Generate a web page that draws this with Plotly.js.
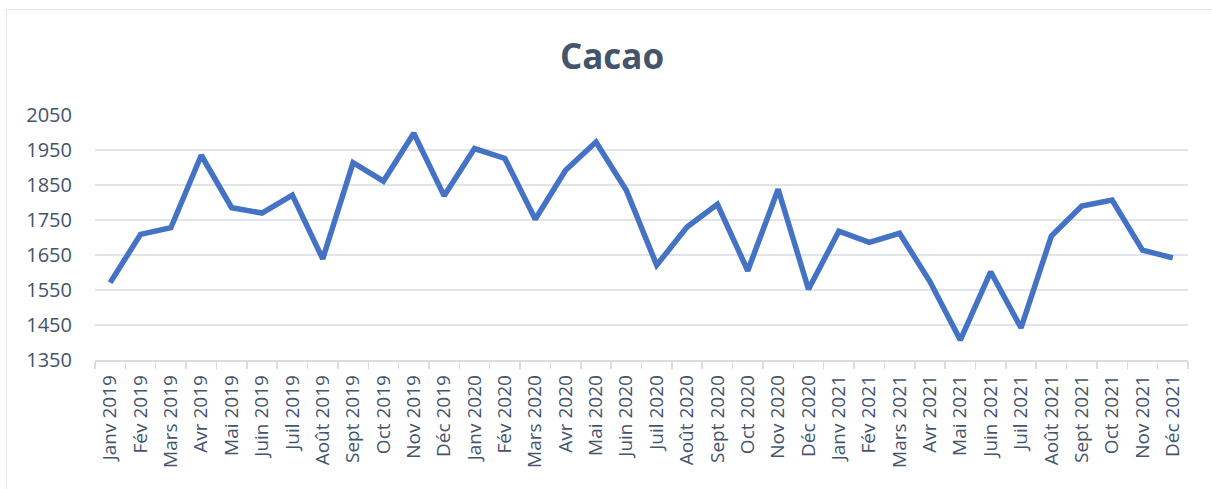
<!DOCTYPE html>
<html>
<head>
<meta charset="utf-8">
<script src="https://cdn.plot.ly/plotly-3.0.1.min.js"></script>
<style>
  html, body { margin: 0; padding: 0; background: #ffffff; }
  #wrap { position: relative; width: 1212px; height: 489px; }
  #chart { width: 1212px; height: 489px; }
  #frame { position: absolute; left: 6px; top: 9px; width: 1220px; height: 500px;
           border-left: 1.5px solid #e2e6ea; border-top: 1.5px solid #e2e6ea; pointer-events: none; }
</style>
</head>
<body>
<div id="wrap">
  <div id="chart"></div>
  <div id="frame"></div>
</div>
<script>
const categories = [
  "Janv 2019", "Fév 2019", "Mars 2019", "Avr 2019", "Mai 2019", "Juin 2019",
  "Juil 2019", "Août 2019", "Sept 2019", "Oct 2019", "Nov 2019", "Déc 2019",
  "Janv 2020", "Fév 2020", "Mars 2020", "Avr 2020", "Mai 2020", "Juin 2020",
  "Juil 2020", "Août 2020", "Sept 2020", "Oct 2020", "Nov 2020", "Déc 2020",
  "Janv 2021", "Fév 2021", "Mars 2021", "Avr 2021", "Mai 2021", "Juin 2021",
  "Juil 2021", "Août 2021", "Sept 2021", "Oct 2021", "Nov 2021", "Déc 2021"
];
const cacao = [
  1571, 1709, 1728, 1935, 1785, 1770, 1821, 1639, 1914, 1861, 1998, 1819,
  1954, 1926, 1752, 1892, 1973, 1835, 1621, 1730, 1795, 1605, 1838, 1552,
  1718, 1686, 1712, 1574, 1407, 1602, 1442, 1704, 1790, 1807, 1664, 1642
];
const yTicks = [1350, 1450, 1550, 1650, 1750, 1850, 1950, 2050];

const textColor = "#44546a";
const gridColor = "#e1e4e9";

Plotly.newPlot("chart", [{
  type: "scatter",
  mode: "lines",
  x: categories,
  y: cacao,
  line: { color: "#4472c4", width: 5.5, shape: "linear" },
  hoverinfo: "x+y"
}], {
  width: 1212,
  height: 489,
  paper_bgcolor: "#ffffff",
  plot_bgcolor: "#ffffff",
  margin: { l: 95, r: 24, t: 115, b: 129, pad: 0 },
  title: {
    text: "<b>Cacao</b>",
    x: 0.505, xanchor: "center",
    y: 0.883, yanchor: "middle",
    font: { family: "Open Sans, sans-serif", size: 35, color: textColor }
  },
  showlegend: false,
  xaxis: {
    type: "category",
    tickangle: -90,
    tickson: "boundaries",
    ticks: "outside",
    ticklen: 7,
    tickcolor: "#d9dde3",
    tickwidth: 1.5,
    showline: true,
    linecolor: "#d9dde3",
    linewidth: 1.5,
    showgrid: false,
    ticklabelstandoff: 6,
    tickfont: { family: "Open Sans, sans-serif", size: 19, color: textColor },
    range: [-0.5, 35.5],
    fixedrange: true
  },
  yaxis: {
    range: [1350, 2050],
    tickvals: yTicks,
    ticktext: yTicks.map(String),
    showgrid: true,
    gridcolor: gridColor,
    gridwidth: 1.5,
    zeroline: false,
    showline: false,
    ticks: "",
    ticklabelstandoff: 22,
    tickfont: { family: "Open Sans, sans-serif", size: 20, color: textColor },
    fixedrange: true
  }
}, { displayModeBar: false, staticPlot: true });
</script>
</body>
</html>
